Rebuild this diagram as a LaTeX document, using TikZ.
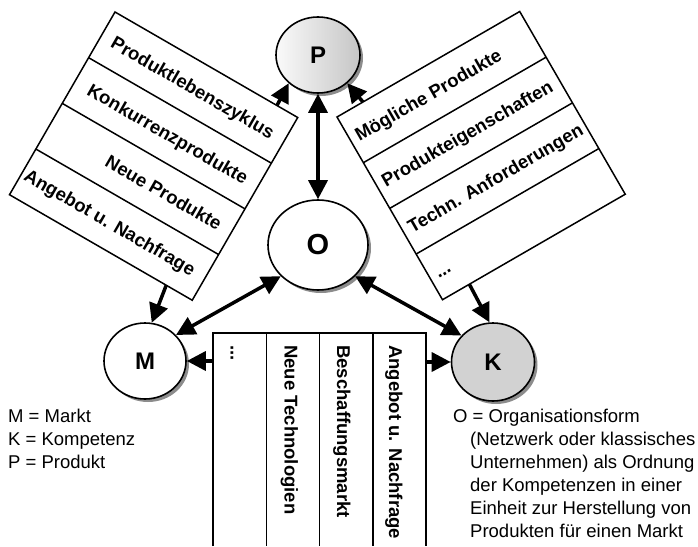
\documentclass[tikz,border=0pt]{standalone}
\usepackage{fontspec}
\setmainfont{Liberation Sans}
\usetikzlibrary{arrows.meta,shapes.geometric,shadows}

\begin{document}
\begin{tikzpicture}[x=1pt,y=-1pt,
  circ/.style={ellipse, draw, line width=1.6pt, inner sep=0pt,
    font=\bfseries\fontsize{24}{26}\selectfont,
    drop shadow={shadow xshift=3pt, shadow yshift=-3pt, fill=black!45, opacity=1}},
  boxline/.style={line width=1.5pt, line join=miter},
  boxtext/.style={font=\bfseries\fontsize{18.5}{20}\selectfont, inner sep=0pt},
  legend/.style={font=\fontsize{18.5}{23}\selectfont, inner sep=0pt, anchor=base west},
  arr/.style={line width=3.5pt, -{Triangle[length=19pt,width=19pt]}},
  darr/.style={line width=3.5pt, {Triangle[length=19pt,width=19pt]}-{Triangle[length=19pt,width=19pt]}}
]
\useasboundingbox (0,0) rectangle (698,546);

% the four elements
\node[circ, minimum width=84pt, minimum height=76pt, left color=gray!4, right color=gray!45] (P) at (318,55) {P};
\node[circ, minimum width=100pt, minimum height=90pt, fill=white, font=\bfseries\fontsize{29}{31}\selectfont] (O) at (318,245) {O};
\node[circ, minimum width=82pt, minimum height=76pt, fill=white] (M) at (145,361) {M};
\node[circ, minimum width=83pt, minimum height=78pt, fill=gray!35] (K) at (493,362) {K};

% market-side factors (tilted to the left)
\begin{scope}[shift={(115,12)}, x={(0.866pt,-0.5pt)}, y={(-0.5pt,-0.866pt)}]
  \draw[boxline] (0,0) -- (211,0) -- (211,211) -- (0,211) -- cycle;
  \foreach \v in {52.75,105.5,158.25} \draw[boxline] (0,\v) -- (211,\v);
  \node[boxtext, rotate=-30, anchor=base east] (lb1) at (198,33.0)  {Produktlebenszyklus};
  \node[boxtext, rotate=-30, anchor=base east] (lb2) at (198,85.7)  {Konkurrenzprodukte};
  \node[boxtext, rotate=-30, anchor=base east] (lb3) at (198,138.5) {Neue Produkte};
  \node[boxtext, rotate=-30, anchor=base east] (lb4) at (198,191.2) {Angebot u. Nachfrage};
  \coordinate (lbToP) at (187,0);
  \coordinate (lbToM) at (181,211);
\end{scope}

% product-side factors (tilted to the right)
\begin{scope}[shift={(337,117)}, x={(0.866pt,0.5pt)}, y={(0.5pt,-0.866pt)}]
  \draw[boxline] (0,0) -- (211,0) -- (211,211) -- (0,211) -- cycle;
  \foreach \v in {52.75,105.5,158.25} \draw[boxline] (0,\v) -- (211,\v);
  \node[boxtext, rotate=30, anchor=base west] (rb1) at (7,33.0)  {Mögliche Produkte};
  \node[boxtext, rotate=30, anchor=base west] (rb2) at (7,85.7)  {Produkteigenschaften};
  \node[boxtext, rotate=30, anchor=base west] (rb3) at (7,138.5) {Techn. Anforderungen};
  \node[boxtext, rotate=30, anchor=base west] (rb4) at (7,191.2) {...};
  \coordinate (rbToP) at (30,0);
  \coordinate (rbToK) at (31,211);
\end{scope}

% procurement-side factors (upright columns)
\draw[boxline] (213,546) -- (213,333) -- (426,333) -- (426,546);
\foreach \x in {266.25,319.5,372.75} \draw[boxline] (\x,333) -- (\x,546);
\node[boxtext, rotate=-90, anchor=base west] (bb1) at (230.5,345) {...};
\node[boxtext, rotate=-90, anchor=base west] (bb2) at (284.5,345) {Neue Technologien};
\node[boxtext, rotate=-90, anchor=base west] (bb3) at (337.0,345) {Beschaffungsmarkt};
\node[boxtext, rotate=-90, anchor=base west] (bb4) at (389.0,345) {Angebot u. Nachfrage};
\coordinate (bbL) at (213,361);
\coordinate (bbR) at (426,362);

% connectors
\draw[arr] (lbToP) -- (P.224);
\draw[arr] (rbToP) -- (P.316);
\draw[darr] (P.south) -- (O.north);
\draw[arr] (lbToM) -- (M.80);
\draw[arr] (rbToK) -- (K.95);
\draw[darr] (O.220) -- (M.40);
\draw[darr] (O.320) -- (K.140);
\draw[arr] (bbL) -- (M.east);
\draw[arr] (bbR) -- (K.west);

% legends
\node[legend] (lgM) at (8,422) {M = Markt};
\node[legend] (lgK) at (8,445) {K = Kompetenz};
\node[legend] (lgP) at (8,468) {P = Produkt};
\node[legend] (lgO1) at (453,422) {O = Organisationsform};
\node[legend] (lgO2) at (470,445) {(Netzwerk oder klassisches};
\node[legend] (lgO3) at (470,468) {Unternehmen) als Ordnung};
\node[legend] (lgO4) at (470,491) {der Kompetenzen in einer};
\node[legend] (lgO5) at (470,514) {Einheit zur Herstellung von};
\node[legend] (lgO6) at (470,537) {Produkten für einen Markt};
\end{tikzpicture}
\end{document}
